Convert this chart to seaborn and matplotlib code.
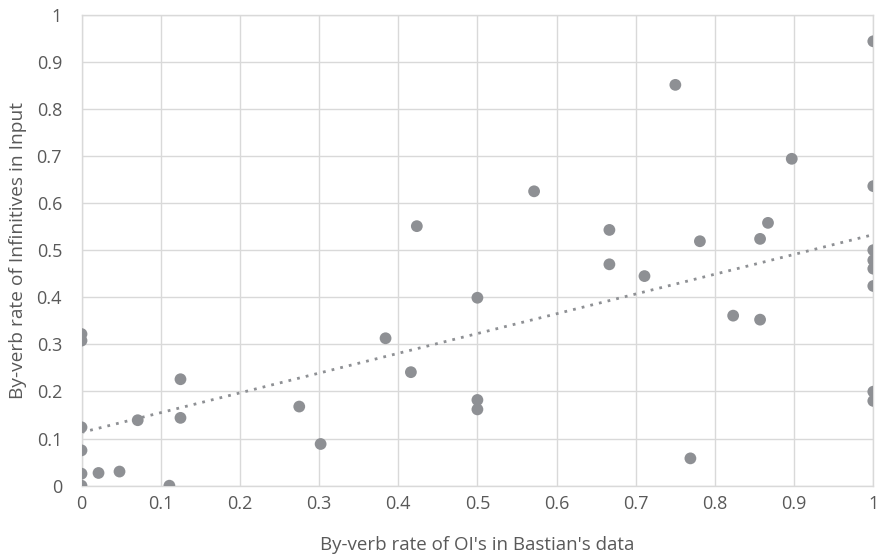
import numpy as np
import pandas as pd
import matplotlib
matplotlib.use('Agg')
import matplotlib.pyplot as plt
import seaborn as sns

# by-verb rates
oi_rate = [0, 0, 0, 0, 0, 0,
           0.0215, 0.048, 0.071, 0.111, 0.125, 0.125,
           0.275, 0.302, 0.384, 0.416, 0.4235,
           0.5, 0.5, 0.5, 0.5716,
           0.6667, 0.6667, 0.711, 0.75, 0.769, 0.781,
           0.823, 0.857, 0.857, 0.867, 0.897,
           1, 1, 1, 1, 1, 1, 1, 1]
inf_rate = [0.322, 0.308, 0.124, 0.075, 0.0255, 0.0,
            0.027, 0.030, 0.139, 0.0, 0.144, 0.226,
            0.168, 0.0885, 0.313, 0.241, 0.551,
            0.399, 0.182, 0.162, 0.625,
            0.543, 0.470, 0.445, 0.851, 0.058, 0.519,
            0.361, 0.524, 0.3525, 0.558, 0.694,
            0.9435, 0.636, 0.500, 0.4786, 0.4607, 0.424, 0.1996, 0.180]
ticks = np.round(np.arange(0, 1.01, 0.1), 1)
tick_labels = ['0' if t == 0 else ('1' if t == 1 else f'{t:.1f}') for t in ticks]

df = pd.DataFrame({'oi': oi_rate, 'inf': inf_rate})

sns.set_theme(style='white')
plt.rcParams['font.family'] = ['Open Sans', 'DejaVu Sans']
txt = '#595959'
grid = '#D9D9D9'
pt = '#8E9094'

fig = plt.figure(figsize=(8.84, 5.58), dpi=100)
ax = fig.add_axes([0.0922, 0.1296, 0.8957, 0.8441])

sns.regplot(x='oi', y='inf', data=df, ax=ax, ci=None, truncate=True,
            scatter_kws=dict(s=72, color=pt, edgecolor='none', alpha=1, zorder=3),
            line_kws=dict(color='#8E9094', linestyle=(0, (1, 2.2)), linewidth=2, zorder=2))

ax.set_xlim(0, 1)
ax.set_ylim(0, 1)
ax.set_xticks(ticks)
ax.set_yticks(ticks)
ax.set_xticklabels(tick_labels)
ax.set_yticklabels(tick_labels)
ax.grid(True, color=grid, linewidth=1)
ax.set_axisbelow(True)
for s in ax.spines.values():
    s.set_visible(True)
    s.set_color(grid)
    s.set_linewidth(1)
ax.tick_params(axis='both', length=0, labelsize=13, colors=txt)
ax.tick_params(axis='x', pad=7)
ax.tick_params(axis='y', pad=14)
ax.set_xlabel("By-verb rate of OI's in Bastian's data", fontsize=13.5, color=txt, labelpad=16)
ax.set_ylabel('By-verb rate of Infinitives in Input', fontsize=13.8, color=txt, labelpad=7)

fig.savefig('out.png', dpi=100)
